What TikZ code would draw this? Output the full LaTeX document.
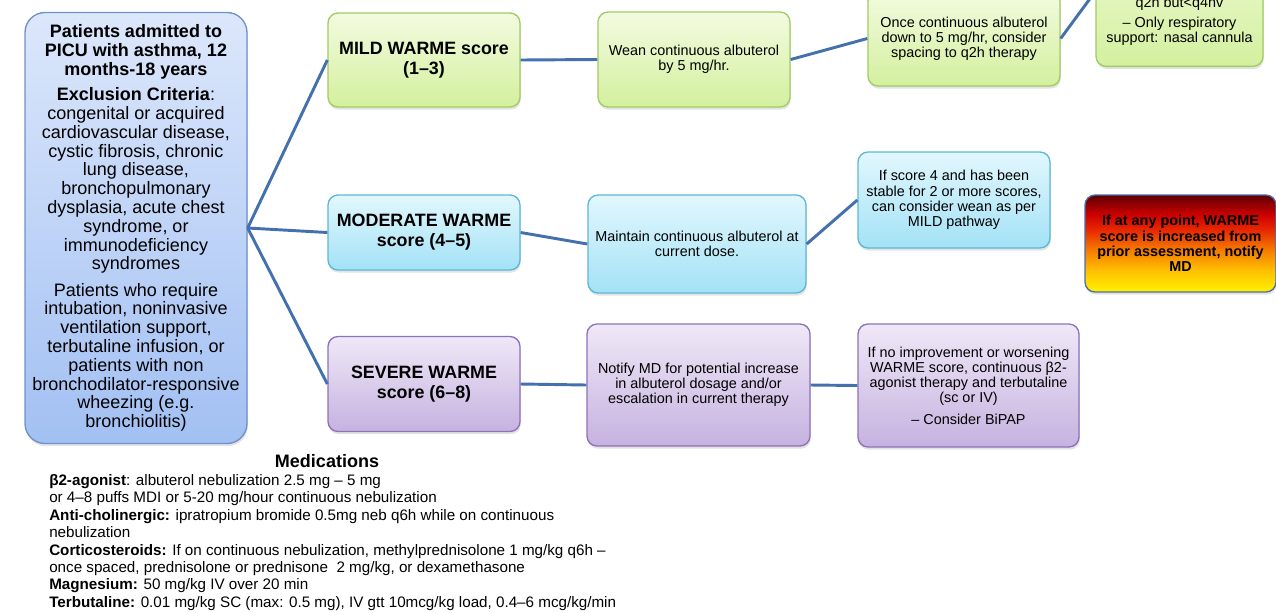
\documentclass[tikz,border=0pt]{standalone}
\usepackage{fontspec}
\setmainfont{Liberation Sans}
\usetikzlibrary{shadows}
\definecolor{gtop}{HTML}{F3FBE0}
\definecolor{gbot}{HTML}{D3F09E}
\definecolor{gbord}{HTML}{A2CB66}
\definecolor{btop}{HTML}{E2F7FD}
\definecolor{bbot}{HTML}{A3E2F6}
\definecolor{bbord}{HTML}{5DB7D4}
\definecolor{ptop}{HTML}{EFE8F7}
\definecolor{pbot}{HTML}{C6B2E0}
\definecolor{pbord}{HTML}{8E72B8}
\definecolor{mtop}{HTML}{DCE7FB}
\definecolor{mbot}{HTML}{A2C0F3}
\definecolor{mbord}{HTML}{6C92C8}
\definecolor{lcol}{HTML}{4470AE}
\definecolor{rbord}{HTML}{4D6DA8}
\definecolor{al1}{HTML}{FFF200}
\definecolor{al2}{HTML}{FFC000}
\definecolor{al3}{HTML}{F47A00}
\definecolor{al4}{HTML}{E82800}
\definecolor{al5}{HTML}{CC0000}
\definecolor{al6}{HTML}{5C0000}
\pgfdeclareverticalshading{alarm}{100bp}{color(0bp)=(al1); color(25bp)=(al1); color(36bp)=(al2); color(47bp)=(al3); color(57bp)=(al4); color(65bp)=(al5); color(75bp)=(al6); color(100bp)=(al6)}
\tikzset{
  box/.style={draw, rounded corners=7.5pt, line width=1pt, align=center, inner sep=2pt,
    drop shadow={opacity=0.22, shadow xshift=0.6pt, shadow yshift=-2pt}},
  gbox/.style={box, draw=gbord, top color=gtop, bottom color=gbot},
  bbox/.style={box, draw=bbord, top color=btop, bottom color=bbot},
  pbox/.style={box, draw=pbord, top color=ptop, bottom color=pbot},
  rbox/.style={box, draw=rbord, shading=alarm},
  bodyfont/.style={font=\fontsize{10.8}{11.4}\selectfont},
  titlefont/.style={font=\bfseries\fontsize{13.4}{15}\selectfont},
  conn/.style={draw=lcol, line width=2.2pt},
}
\begin{document}
\begin{tikzpicture}[x=0.75pt, y=-0.75pt]
\useasboundingbox (0,0) rectangle (1276,612);
% main box
\node[box, draw=mbord, top color=mtop, bottom color=mbot, rounded corners=15pt,
  minimum width=166.5pt, minimum height=323.25pt, font=\fontsize{13.5}{14.1}\selectfont] (main) at (136,228)
 {\textbf{Patients admitted to}\\\textbf{PICU with asthma, 12}\\\textbf{months-18 years}\\[4.9pt]
  \textbf{Exclusion Criteria}:\\congenital or acquired\\cardiovascular disease,\\cystic fibrosis, chronic\\lung disease,\\bronchopulmonary\\dysplasia, acute chest\\syndrome, or\\immunodeficiency\\syndromes\\[5.6pt]
  Patients who require\\intubation, noninvasive\\ventilation support,\\terbutaline infusion, or\\patients with non\\bronchodilator-responsive\\wheezing (e.g.\\bronchiolitis)};
% score boxes
\node[gbox, titlefont, minimum width=144pt, minimum height=70.5pt] (mild) at (424,60) {MILD WARME score\\(1--3)};
\node[bbox, titlefont, minimum width=144pt, minimum height=56.25pt] (moderate) at (424,232.5) {MODERATE WARME\\score (4--5)};
\node[pbox, titlefont, minimum width=144pt, minimum height=71.25pt] (severe) at (424,384) {SEVERE WARME\\score (6--8)};
% mild pathway
\node[gbox, bodyfont, minimum width=144pt, minimum height=71.25pt] (wean) at (694,59.5) {Wean continuous albuterol\\by 5 mg/hr.};
\node[gbox, bodyfont, minimum width=144pt, minimum height=71.25pt] (once) at (964,38.5) {Once continuous albuterol\\down to 5 mg/hr, consider\\spacing to q2h therapy};
\node[gbox, minimum width=125.25pt, minimum height=112.5pt, anchor=south] (tr) at (1179.5,67) {};
\node[bodyfont, anchor=base, inner sep=0pt] (trl1) at (1179.5,7.5) {q2h but<q4hv};
\node[bodyfont, anchor=base, inner sep=0pt] (trl2) at (1179.5,27.7) {-- Only respiratory};
\node[bodyfont, anchor=base, inner sep=0pt] (trl3) at (1179.5,42.7) {support: nasal cannula};
% moderate pathway
\node[bbox, bodyfont, minimum width=163.5pt, minimum height=73.5pt] (maintain) at (697,244) {Maintain continuous albuterol at\\current dose.};
\node[bbox, bodyfont, minimum width=144pt, minimum height=72pt] (score4) at (954,200) {If score 4 and has been\\stable for 2 or more scores,\\can consider wean as per\\MILD pathway};
\node[rbox, font=\bfseries\fontsize{10.8}{11.5}\selectfont, minimum width=143.25pt, minimum height=72.75pt] (alarm) at (1180.5,243.5) {If at any point, WARME\\score is increased from\\prior assessment, notify\\MD};
% severe pathway
\node[pbox, bodyfont, minimum width=167.25pt, minimum height=91.5pt] (notify) at (698.5,385) {Notify MD for potential increase\\in albuterol dosage and/or\\escalation in current therapy};
\node[pbox, bodyfont, minimum width=165.75pt, minimum height=92.25pt] (ifno) at (968.5,385.5) {If no improvement or worsening\\WARME score, continuous β2-\\agonist therapy and terbutaline\\(sc or IV)\\[4.5pt]-- Consider BiPAP};
% connectors
\draw[conn] (main.east) -- (mild.west);
\draw[conn] (main.east) -- (moderate.west);
\draw[conn] (main.east) -- (severe.west);
\draw[conn] (mild.east) -- (wean.west);
\draw[conn] (wean.east) -- (once.west);
\draw[conn] (once.east) -- (tr.west);
\draw[conn] (moderate.east) -- (maintain.west);
\draw[conn] (maintain.east) -- (score4.west);
\draw[conn] (severe.east) -- (notify.west);
\draw[conn] (notify.east) -- (ifno.west);
% medications
\node[font=\bfseries\fontsize{13.5}{16}\selectfont] (medtitle) at (327,461) {Medications};
\node[anchor=north west, inner sep=0pt, align=left, font=\fontsize{11.4}{13.07}\selectfont] (medtext) at (49,474)
 {\textbf{β2-agonist}: albuterol nebulization 2.5 mg -- 5 mg\\
  or 4--8 puffs MDI or 5-20 mg/hour continuous nebulization\\
  \textbf{Anti-cholinergic:} ipratropium bromide 0.5mg neb q6h while on continuous\\
  nebulization\\
  \textbf{Corticosteroids:} If on continuous nebulization, methylprednisolone 1 mg/kg q6h --\\
  once spaced, prednisolone or prednisone \ 2 mg/kg, or dexamethasone\\
  \textbf{Magnesium:} 50 mg/kg IV over 20 min\\
  \textbf{Terbutaline:} 0.01 mg/kg SC (max: 0.5 mg), IV gtt 10mcg/kg load, 0.4--6 mcg/kg/min};
\end{tikzpicture}
\end{document}
